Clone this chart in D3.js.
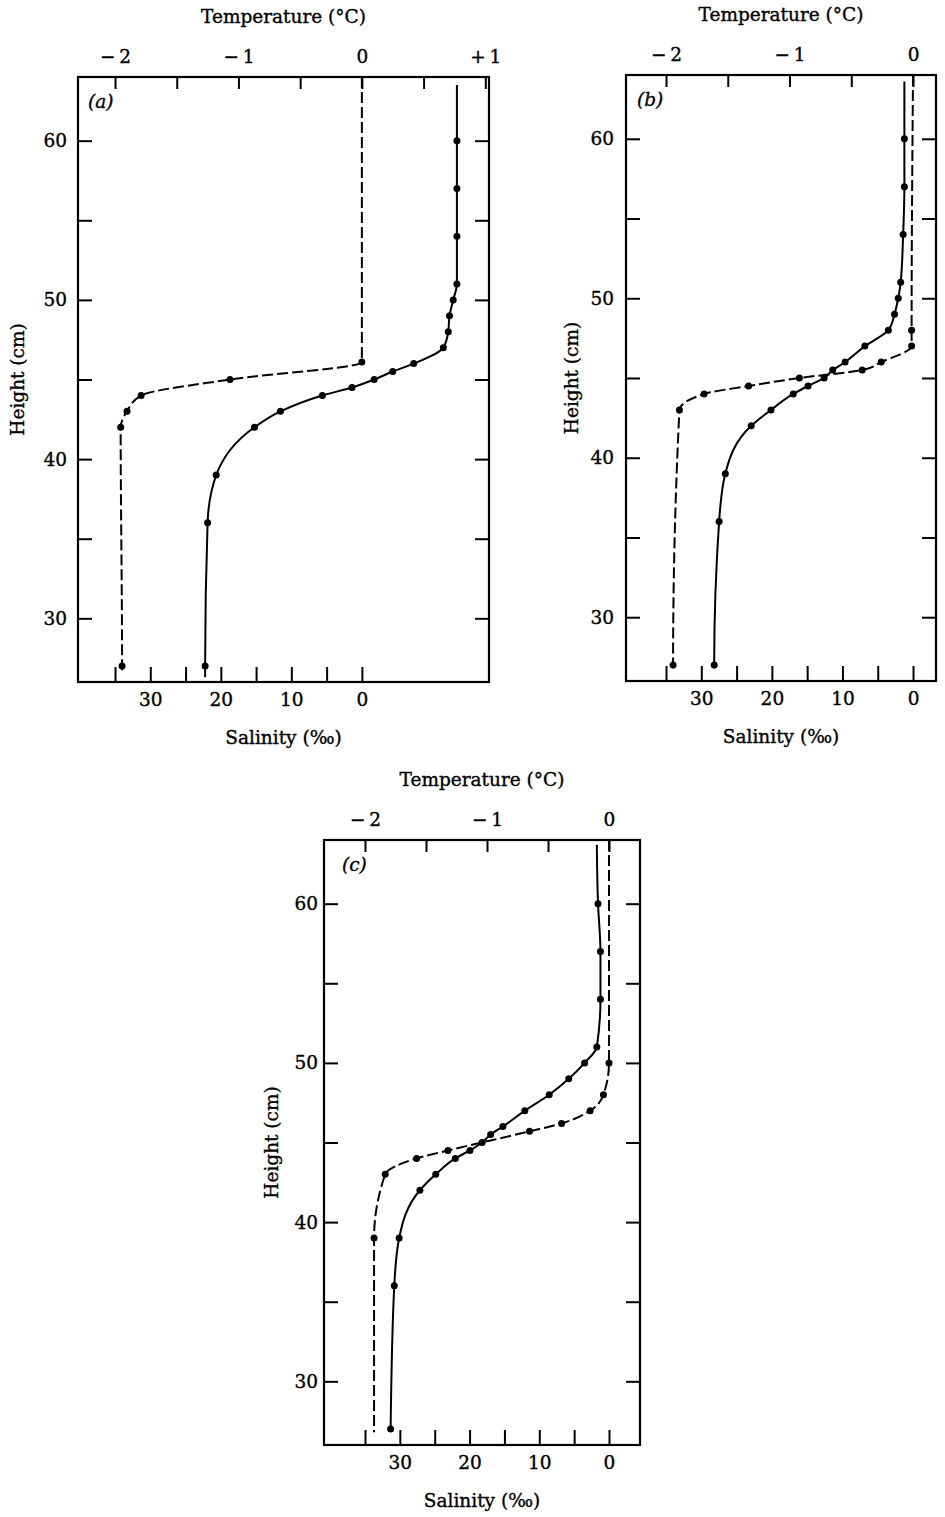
<!DOCTYPE html>
<html>
<head>
<meta charset="utf-8">
<script src="https://cdn.jsdelivr.net/npm/d3@7"></script>
<style>
  body { margin: 0; background: #fff; }
  text { font-family: "DejaVu Serif", "Liberation Serif", serif; fill: #000; }
</style>
</head>
<body>
<svg id="chart" width="945" height="1517"></svg>
<script>
// axis ticks
const heightTicks = [30, 35, 40, 45, 50, 55, 60]
const heightLabels = [30, 40, 50, 60]
const salinityTicks = [35, 30, 25, 20, 15, 10, 5, 0]
const salinityLabels = [30, 20, 10, 0]
const tempTicksA = [-2, -1.5, -1, -0.5, 0, 0.5, 1]
const tempTicksBC = [-2, -1.5, -1, -0.5, 0]
const tempLabels = {'-2': '\u2212\u20092', '-1': '\u2212\u20091', '0': '0', '1': '+\u20091'}

// [height (cm), value, has dot]
// solid = temperature (°C), dashed = salinity (‰)
const tempA = [[26.3, -1.27, 0], [27, -1.27, 1], [36, -1.25, 1], [39, -1.18, 1], [42, -0.87, 1], [43, -0.66, 1],
  [44, -0.32, 1], [44.5, -0.08, 1], [45, 0.10, 1], [45.5, 0.25, 1], [46, 0.42, 1], [47, 0.66, 1], [48, 0.70, 1],
  [49, 0.71, 1], [50, 0.74, 1], [51, 0.77, 1], [54, 0.77, 1], [57, 0.77, 1], [60, 0.77, 1], [63.5, 0.77, 0]]
const salA = [[26.6, 34.0, 0], [27, 34.0, 1], [42, 34.2, 1], [43, 33.3, 1], [44, 31.3, 1], [45, 18.7, 1],
  [46.1, 0, 1], [64, 0, 0]]

const tempB = [[26.8, -1.61, 0], [27, -1.61, 1], [36, -1.57, 1], [39, -1.52, 1], [42, -1.31, 1], [43, -1.15, 1],
  [44, -0.97, 1], [44.5, -0.85, 1], [45, -0.72, 1], [45.5, -0.65, 1], [46, -0.55, 1], [47, -0.39, 1], [48, -0.20, 1],
  [49, -0.15, 1], [50, -0.12, 1], [51, -0.10, 1], [54, -0.08, 1], [57, -0.07, 1], [60, -0.07, 1], [63.6, -0.07, 0]]
const salB = [[26.8, 34.0, 0], [27, 34.0, 1], [43, 33.1, 1], [44, 29.6, 1], [44.5, 23.3, 1], [45, 16.1, 1],
  [45.5, 7.2, 1], [46, 4.5, 1], [47, 0.2, 1], [48, 0.2, 1], [64, 0, 0]]

const tempC = [[27, -1.79, 1], [36, -1.76, 1], [39, -1.72, 1], [42, -1.55, 1], [43, -1.42, 1], [44, -1.26, 1],
  [44.5, -1.14, 1], [45, -1.04, 1], [45.5, -0.97, 1], [46, -0.87, 1], [47, -0.69, 1], [48, -0.49, 1], [49, -0.33, 1],
  [50, -0.20, 1], [51, -0.10, 1], [54, -0.07, 1], [57, -0.07, 1], [60, -0.09, 1], [63.7, -0.10, 0]]
const salC = [[26.8, 33.7, 0], [39, 33.7, 1], [43, 32.1, 1], [44, 27.6, 1], [44.5, 23.1, 1], [45.7, 11.4, 1],
  [46.2, 6.8, 1], [47, 2.7, 1], [48, 0.8, 1], [50, 0, 1], [64, 0, 0]]

const panels = [
  {label: '(a)', temp: tempA, sal: salA, tempTicks: tempTicksA, tDomain: [-2.30, 1.03],
   x: 78, y: 77, w: 411, h: 605, yPad: 11, hLabelX: -60, tagX: 10},
  {label: '(b)', temp: tempB, sal: salB, tempTicks: tempTicksBC, tDomain: [-2.324, 0.186],
   x: 626, y: 75, w: 310, h: 606, yPad: 12, hLabelX: -54, tagX: 11},
  {label: '(c)', temp: tempC, sal: salC, tempTicks: tempTicksBC, tDomain: [-2.336, 0.254],
   x: 324, y: 840, w: 316, h: 605, yPad: 6, hLabelX: -52, tagX: 18}
]

const FONT = 18.5
const svg = d3.select('#chart')
svg.append('rect').attr('width', 945).attr('height', 1517).attr('fill', '#fff')

// heavier print look, like the scanned figure
function ink(sel) {
  sel.attr('stroke', '#000').attr('stroke-width', 0.35).attr('font-size', FONT)
}

function styleAxis(sel) {
  sel.select('.domain').remove()
  sel.selectAll('line').attr('stroke', '#000').attr('stroke-width', 2)
  sel.selectAll('text').attr('font-family', '"DejaVu Serif", serif').attr('fill', '#000').call(ink)
}

function drawPanel(p) {
  const g = svg.append('g').attr('transform', `translate(${p.x}, ${p.y})`)
  const y = d3.scaleLinear().domain([26, 64]).range([p.h, 0])
  const xT = d3.scaleLinear().domain(p.tDomain).range([0, p.w])
  const xS = d3.scaleLinear().domain([35, 0]).range([xT(-2), xT(0)])

  g.append('g')
    .call(d3.axisLeft(y).tickValues(heightTicks).tickSize(-14).tickPadding(p.yPad)
      .tickFormat(d => heightLabels.includes(d) ? d : ''))
    .call(styleAxis)
  g.append('g').attr('transform', `translate(${p.w}, 0)`)
    .call(d3.axisRight(y).tickValues(heightTicks).tickSize(-14).tickFormat(''))
    .call(styleAxis)
  g.append('g')
    .call(d3.axisTop(xT).tickValues(p.tempTicks).tickSize(-12).tickPadding(14)
      .tickFormat(d => tempLabels[d] || ''))
    .call(styleAxis)
  g.append('g').attr('transform', `translate(0, ${p.h})`)
    .call(d3.axisBottom(xS).tickValues(salinityTicks).tickSize(-15).tickPadding(11)
      .tickFormat(d => salinityLabels.includes(d) ? d : ''))
    .call(styleAxis)

  g.append('rect').attr('width', p.w).attr('height', p.h)
    .attr('fill', 'none').attr('stroke', '#000').attr('stroke-width', 2.2)

  // titles
  g.append('text').attr('x', p.w / 2).attr('y', -54).attr('text-anchor', 'middle')
    .call(ink).text('Temperature (°C)')
  g.append('text').attr('x', p.w / 2).attr('y', p.h + 62).attr('text-anchor', 'middle')
    .call(ink).text('Salinity (‰)')
  g.append('text').attr('transform', `translate(${p.hLabelX}, ${p.h / 2}) rotate(-90)`)
    .attr('text-anchor', 'middle').attr('dy', '0.35em').call(ink).text('Height (cm)')
  g.append('text').attr('x', p.tagX).attr('y', 31).call(ink)
    .attr('font-style', 'italic').text(p.label)

  const series = [
    {data: p.temp, x: xT, dash: null},
    {data: p.sal, x: xS, dash: '11,4'}
  ]
  series.forEach(s => {
    const pts = d3.sort(s.data, d => -d[0])
    const line = d3.line().x(d => s.x(d[1])).y(d => y(d[0])).curve(d3.curveMonotoneY)
    g.append('path').attr('d', line(pts)).attr('fill', 'none')
      .attr('stroke', '#000').attr('stroke-width', 2)
      .attr('stroke-dasharray', s.dash)
    g.selectAll(null).data(pts.filter(d => d[2])).enter().append('circle')
      .attr('cx', d => s.x(d[1])).attr('cy', d => y(d[0])).attr('r', 3.5).attr('fill', '#000')
  })
}

panels.forEach(drawPanel)
</script>
</body>
</html>
